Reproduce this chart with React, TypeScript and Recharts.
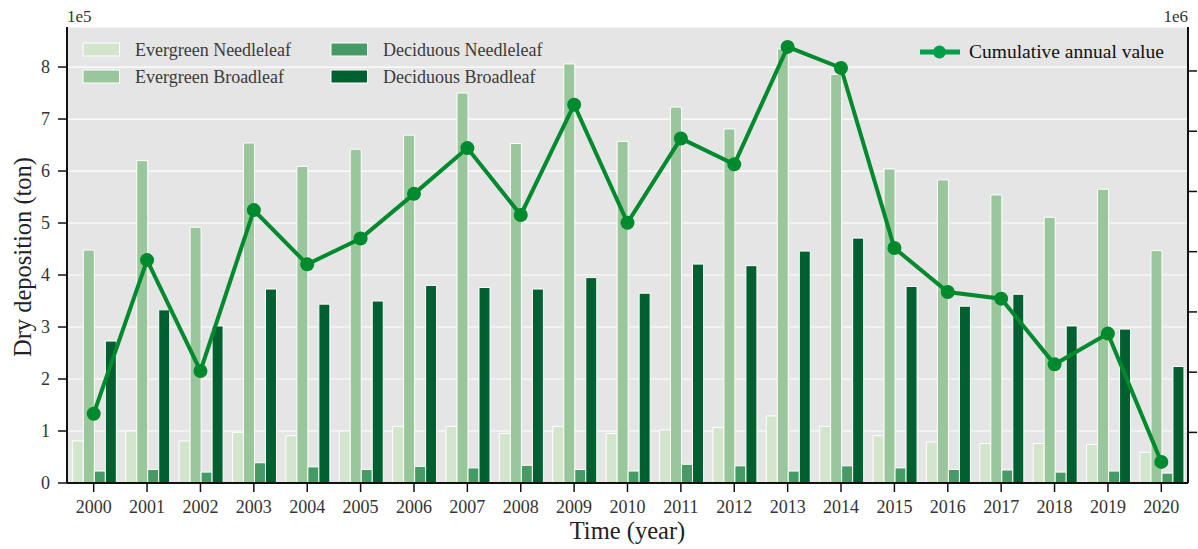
import React from "react";
import { ComposedChart, Bar, Line, XAxis, YAxis, CartesianGrid } from "recharts";

// Dry deposition by forest type (bars, 1e5 ton) and the yearly total (line, 1e6 ton)
const years = [
  "2000", "2001", "2002", "2003", "2004", "2005", "2006", "2007", "2008", "2009", "2010",
  "2011", "2012", "2013", "2014", "2015", "2016", "2017", "2018", "2019", "2020",
];

const evergreenNeedleleaf = [
  0.81, 1.0, 0.81, 0.97, 0.91, 1.0, 1.09, 1.09, 0.95, 1.09, 0.95,
  1.02, 1.07, 1.29, 1.09, 0.91, 0.79, 0.76, 0.76, 0.74, 0.59,
];
const evergreenBroadleaf = [
  4.48, 6.2, 4.92, 6.54, 6.09, 6.42, 6.69, 7.5, 6.53, 8.06, 6.57,
  7.23, 6.81, 8.35, 7.86, 6.04, 5.83, 5.54, 5.11, 5.65, 4.47,
];
const deciduousNeedleleaf = [
  0.23, 0.26, 0.21, 0.39, 0.31, 0.26, 0.32, 0.29, 0.34, 0.26, 0.23,
  0.36, 0.33, 0.23, 0.33, 0.29, 0.26, 0.25, 0.21, 0.23, 0.19,
];
const deciduousBroadleaf = [
  2.73, 3.33, 3.02, 3.73, 3.44, 3.5, 3.8, 3.76, 3.73, 3.95, 3.65,
  4.21, 4.18, 4.46, 4.71, 3.78, 3.4, 3.63, 3.02, 2.96, 2.24,
];
const cumulativeAnnual = [
  0.831, 1.086, 0.902, 1.169, 1.079, 1.122, 1.196, 1.272, 1.161, 1.344, 1.148,
  1.288, 1.245, 1.44, 1.405, 1.106, 1.033, 1.022, 0.913, 0.964, 0.751,
];

const leftTicks = [0, 1, 2, 3, 4, 5, 6, 7, 8];
const rightTicks = [0.8, 0.9, 1.0, 1.1, 1.2, 1.3, 1.4];

const FONT = '"Liberation Serif", "Times New Roman", serif';
const LINE_COLOR = "#008a2e";
const LEGEND_LINE_COLOR = "#00a04a";

const barSeries = [
  { key: "en", name: "Evergreen Needleleaf", color: "#d3e5cc" },
  { key: "eb", name: "Evergreen Broadleaf", color: "#99c69a" },
  { key: "dn", name: "Deciduous Needleleaf", color: "#459a65" },
  { key: "db", name: "Deciduous Broadleaf", color: "#00602f" },
];

const data = years.map((year, i) => ({
  year,
  en: evergreenNeedleleaf[i],
  eb: evergreenBroadleaf[i],
  dn: deciduousNeedleleaf[i],
  db: deciduousBroadleaf[i],
  total: cumulativeAnnual[i],
}));

function ChartLegend() {
  const colX = [83, 331];
  const rowY = [43, 70];
  return (
    <g fontFamily={FONT}>
      {barSeries.map((s, i) => {
        const x = colX[Math.floor(i / 2)];
        const y = rowY[i % 2];
        return (
          <g key={s.key}>
            <rect x={x} y={y} width={36.5} height={13} fill={s.color} stroke="#fff" strokeWidth={1} />
            <text x={x + 52} y={y + 13} fontSize={18} fill="#3a3a3a">
              {s.name}
            </text>
          </g>
        );
      })}
      <line x1={920} y1={52} x2={960} y2={52} stroke={LEGEND_LINE_COLOR} strokeWidth={5} />
      <circle cx={939.5} cy={52} r={6.5} fill={LEGEND_LINE_COLOR} />
      <text x={969} y={58} fontSize={19.5} fill="#111">
        Cumulative annual value
      </text>
    </g>
  );
}

function AxisTexts() {
  return (
    <g fontFamily={FONT}>
      <text x={67} y={21.5} fontSize={17} fill="#333">1e5</text>
      <text x={1188} y={21.5} fontSize={17} fill="#333" textAnchor="end">1e6</text>
      <text x={627.5} y={539} fontSize={24.5} fill="#222" textAnchor="middle">Time (year)</text>
      <text
        x={0}
        y={0}
        fontSize={24.5}
        fill="#222"
        textAnchor="middle"
        transform="translate(31, 257) rotate(-90)"
      >
        Dry deposition (ton)
      </text>
    </g>
  );
}

const axisLine = { stroke: "#111", strokeWidth: 2 };
const tickLine = { stroke: "#111", strokeWidth: 1.5 };
const tickStyle = { fill: "#333", fontSize: 18, fontFamily: FONT };

export default function App() {
  return (
    <div style={{ position: "absolute", left: 0, top: 0 }}>
      <ComposedChart
        width={1198}
        height={549}
        data={data}
        margin={{ top: 27, right: 0, bottom: 0, left: 0 }}
        barGap={0}
        barCategoryGap="10%"
      >
        <CartesianGrid
          yAxisId="left"
          vertical={false}
          stroke="#ffffff"
          strokeWidth={1.2}
          fill="#e5e5e5"
          fillOpacity={1}
        />
        <XAxis
          dataKey="year"
          interval={0}
          height={66}
          tickSize={9}
          tickMargin={8}
          axisLine={axisLine}
          tickLine={tickLine}
          tick={tickStyle}
        />
        <XAxis
          xAxisId="top"
          dataKey="year"
          orientation="top"
          height={0}
          tick={false}
          tickLine={false}
          axisLine={axisLine}
        />
        <YAxis
          yAxisId="left"
          width={67}
          domain={[0, 8.77]}
          ticks={leftTicks}
          allowDataOverflow
          tickSize={9}
          tickMargin={8}
          axisLine={axisLine}
          tickLine={tickLine}
          tick={tickStyle}
        />
        <YAxis
          yAxisId="right"
          orientation="right"
          width={10}
          domain={[0.716, 1.473]}
          ticks={rightTicks}
          allowDataOverflow
          tickSize={9}
          axisLine={axisLine}
          tickLine={tickLine}
          tick={() => <g />}
        />
        {barSeries.map((s) => (
          <Bar
            key={s.key}
            yAxisId="left"
            dataKey={s.key}
            name={s.name}
            fill={s.color}
            stroke="#ffffff"
            strokeWidth={1}
            isAnimationActive={false}
          />
        ))}
        <Line
          yAxisId="right"
          dataKey="total"
          name="Cumulative annual value"
          stroke={LINE_COLOR}
          strokeWidth={4}
          dot={{ r: 7, fill: LINE_COLOR, stroke: "none" }}
          activeDot={false}
          isAnimationActive={false}
        />
        <ChartLegend />
        <AxisTexts />
      </ComposedChart>
    </div>
  );
}
